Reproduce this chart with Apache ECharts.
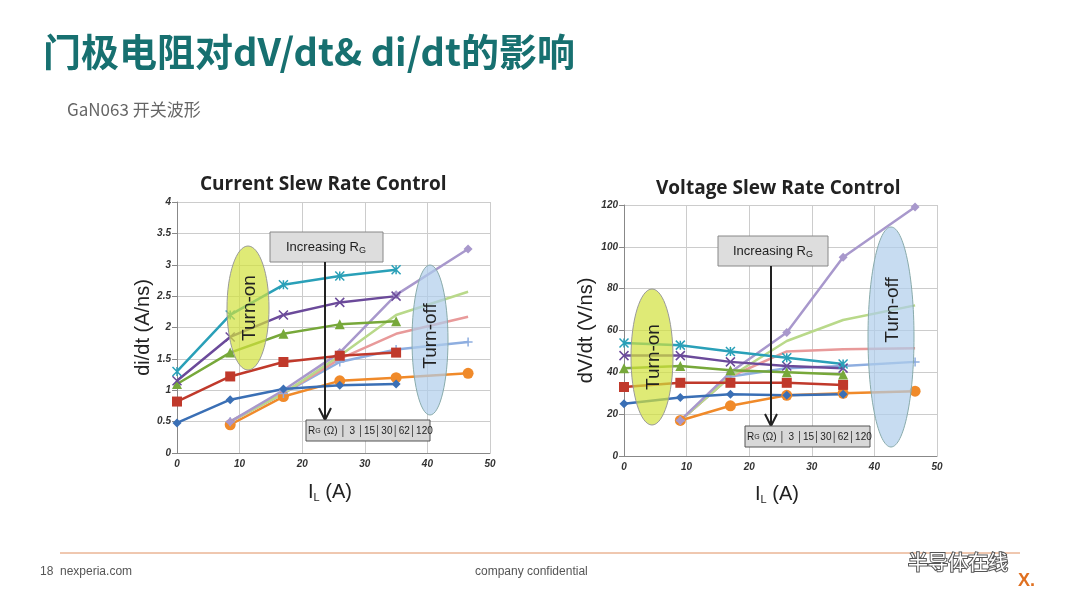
<!DOCTYPE html>
<html><head><meta charset="utf-8">
<script src="https://cdn.jsdelivr.net/npm/echarts@6/dist/echarts.min.js"></script>
<style>html,body{margin:0;padding:0;background:#fff}#c{width:1080px;height:608px}</style>
</head><body><div id="c"></div>
<script>
// turn-on x positions / turn-off x positions (A)
var onX = [0, 8.5, 17, 26, 35];
var offX = [8.5, 17, 26, 35, 46.5];
var onXV = [0, 9, 17, 26, 35];
var offXV = [9, 17, 26, 35, 46.5];

// di/dt (A/ns)
var diOn = {
    blue: [0.48, 0.85, 1.02, 1.08, 1.1],
    red: [0.82, 1.22, 1.45, 1.55, 1.6],
    green: [1.1, 1.6, 1.9, 2.05, 2.1],
    purple: [1.15, 1.85, 2.2, 2.4, 2.5],
    cyan: [1.3, 2.2, 2.68, 2.82, 2.92]
};
var diOff = {
    orange: [0.45, 0.9, 1.15, 1.2, 1.27],
    lblue: [0.5, 0.95, 1.45, 1.65, 1.77],
    pink: [0.5, 0.95, 1.5, 1.9, 2.17],
    lgreen: [0.5, 0.95, 1.55, 2.2, 2.57],
    lavender: [0.5, 1.0, 1.6, 2.52, 3.25]
};
// dV/dt (V/ns)
var dvOn = {
    blue: [25, 28, 29.5, 29, 29.5],
    red: [33, 35, 35, 35, 34],
    green: [42, 43, 41, 40, 39],
    purple: [48, 48, 45, 43, 42],
    cyan: [54, 53, 50, 47, 44]
};
var dvOff = {
    orange: [17, 24, 29, 30, 31],
    lblue: [17, 38, 42, 43, 45],
    pink: [17, 38, 50, 51, 51.5],
    lgreen: [17, 38, 55, 65, 72],
    lavender: [17, 40, 59, 95, 119]
};

var cross = 'path://M0,0L10,10M10,0L0,10';
var star = 'path://M0,0L10,10M10,0L0,10M5,0L5,10';
var plus = 'path://M5,0L5,10M0,5L10,5';
var styles = {
    blue: ['#3a6fb5', 'diamond', 9], red: ['#c0392b', 'rect', 10], green: ['#77a83a', 'triangle', 10],
    purple: ['#6b4a9a', cross, 9], cyan: ['#2aa0b8', star, 9],
    orange: ['#f08a2a', 'circle', 11], lblue: ['#8eaee0', plus, 9], pink: ['#e89a9a', 'none', 0],
    lgreen: ['#b9d98a', 'none', 0], lavender: ['#a898cc', 'diamond', 9]
};

function pairs(xs, ys) {
    return ys.map(function(v, i) { return [xs[i], v]; });
}
function mk(set, xs, idx) {
    var out = [];
    for (var k in set) {
        var s = styles[k];
        var isPath = s[1].indexOf('path') === 0;
        out.push({
            type: 'line', xAxisIndex: idx, yAxisIndex: idx, data: pairs(xs, set[k]),
            symbol: s[1], symbolSize: s[2], showSymbol: s[1] !== 'none',
            lineStyle: { color: s[0], width: 2.5 },
            itemStyle: isPath ? { color: 'none', borderColor: s[0], borderWidth: 1.5 } : { color: s[0] }
        });
    }
    return out;
}

var axisTxt = { fontStyle: 'italic', fontWeight: 'bold', color: '#333', fontSize: 10, margin: 6 };
var split = { show: true, lineStyle: { color: '#ccc' } };

var chart = echarts.init(document.getElementById('c'));
chart.setOption({
    animation: false,
    title: [
        { text: '门极电阻对dV/dt& di/dt的影响', left: 38, top: 28, textStyle: { fontSize: 38, fontWeight: 'bold', color: '#177070', fontFamily: 'Noto Sans CJK SC' } },
        { text: 'GaN063 开关波形', left: 62, top: 96, textStyle: { fontSize: 17, fontWeight: 'normal', color: '#666', fontFamily: 'Noto Sans CJK SC' } },
        { text: 'Current Slew Rate Control', left: 195, top: 170, textStyle: { fontSize: 19, fontWeight: 'bold', color: '#222', fontFamily: 'Open Sans' } },
        { text: 'Voltage Slew Rate Control', left: 651, top: 174, textStyle: { fontSize: 19, fontWeight: 'bold', color: '#222', fontFamily: 'Open Sans' } }
    ],
    grid: [
        { left: 177, top: 202, width: 313, height: 251 },
        { left: 624, top: 205, width: 313, height: 251 }
    ],
    xAxis: [
        { gridIndex: 0, type: 'value', min: 0, max: 50, interval: 10, axisLabel: axisTxt, splitLine: split, axisLine: { lineStyle: { color: '#888' } }, axisTick: { show: false } },
        { gridIndex: 1, type: 'value', min: 0, max: 50, interval: 10, axisLabel: axisTxt, splitLine: split, axisLine: { lineStyle: { color: '#888' } }, axisTick: { show: false } }
    ],
    yAxis: [
        { gridIndex: 0, type: 'value', min: 0, max: 4, interval: 0.5, axisLabel: axisTxt, splitLine: split, axisLine: { show: true, lineStyle: { color: '#888' } },
          name: 'di/dt (A/ns)', nameLocation: 'middle', nameGap: 24, nameTextStyle: { fontSize: 20, color: '#222' } },
        { gridIndex: 1, type: 'value', min: 0, max: 120, interval: 20, axisLabel: axisTxt, splitLine: split, axisLine: { show: true, lineStyle: { color: '#888' } },
          name: 'dV/dt (V/ns)', nameLocation: 'middle', nameGap: 28, nameTextStyle: { fontSize: 20, color: '#222' } }
    ],
    series: [].concat(mk(diOff, offX, 0), mk(diOn, onX, 0), mk(dvOff, offXV, 1), mk(dvOn, onXV, 1)),
    graphic: [
        { type: 'ellipse', shape: { cx: 248, cy: 308, rx: 21, ry: 62 }, style: { fill: 'rgba(210,225,60,0.7)', stroke: '#999' }, z: 10 },
        { type: 'ellipse', shape: { cx: 430, cy: 340, rx: 18, ry: 75 }, style: { fill: 'rgba(175,205,235,0.7)', stroke: '#8aa' }, z: 10 },
        { type: 'ellipse', shape: { cx: 652, cy: 357, rx: 21, ry: 68 }, style: { fill: 'rgba(210,225,60,0.7)', stroke: '#999' }, z: 10 },
        { type: 'ellipse', shape: { cx: 891, cy: 337, rx: 23, ry: 110 }, style: { fill: 'rgba(175,205,235,0.7)', stroke: '#8aa' }, z: 10 },
        { type: 'text', x: 250, y: 308, rotation: Math.PI / 2, style: { text: 'Turn-on', fontSize: 19, fill: '#222', align: 'center', verticalAlign: 'middle' }, z: 11 },
        { type: 'text', x: 431, y: 336, rotation: Math.PI / 2, style: { text: 'Turn-off', fontSize: 19, fill: '#222', align: 'center', verticalAlign: 'middle' }, z: 11 },
        { type: 'text', x: 654, y: 357, rotation: Math.PI / 2, style: { text: 'Turn-on', fontSize: 19, fill: '#222', align: 'center', verticalAlign: 'middle' }, z: 11 },
        { type: 'text', x: 893, y: 310, rotation: Math.PI / 2, style: { text: 'Turn-off', fontSize: 19, fill: '#222', align: 'center', verticalAlign: 'middle' }, z: 11 },
        // Increasing R_G boxes and arrows
        { type: 'rect', shape: { x: 270, y: 232, width: 113, height: 30 }, style: { fill: '#ddd', stroke: '#888' }, z: 12 },
        { type: 'text', x: 326, y: 247, style: { text: 'Increasing R{s|G}', rich: { s: { fontSize: 9, padding: [8, 0, 0, 0] } }, fontSize: 13, fill: '#222', align: 'center', verticalAlign: 'middle' }, z: 13 },
        { type: 'line', shape: { x1: 325, y1: 262, x2: 325, y2: 418 }, style: { stroke: '#222', lineWidth: 2 }, z: 12 },
        { type: 'polyline', shape: { points: [[319, 408], [325, 420], [331, 408]] }, style: { stroke: '#222', lineWidth: 2, fill: null }, z: 12 },
        { type: 'rect', shape: { x: 718, y: 236, width: 110, height: 30 }, style: { fill: '#ddd', stroke: '#888' }, z: 12 },
        { type: 'text', x: 773, y: 251, style: { text: 'Increasing R{s|G}', rich: { s: { fontSize: 9, padding: [8, 0, 0, 0] } }, fontSize: 13, fill: '#222', align: 'center', verticalAlign: 'middle' }, z: 13 },
        { type: 'line', shape: { x1: 771, y1: 266, x2: 771, y2: 424 }, style: { stroke: '#222', lineWidth: 2 }, z: 12 },
        { type: 'polyline', shape: { points: [[765, 414], [771, 426], [777, 414]] }, style: { stroke: '#222', lineWidth: 2, fill: null }, z: 12 },
        // R_G tables
        { type: 'rect', shape: { x: 306, y: 420, width: 124, height: 21 }, style: { fill: '#d8d8d8', stroke: '#555' }, z: 12 },
        { type: 'text', x: 308, y: 431, style: { text: 'R{s|G} (Ω) │ 3 │15│30│62│120', rich: { s: { fontSize: 7 } }, fontSize: 10, fill: '#222', verticalAlign: 'middle' }, z: 13 },
        { type: 'rect', shape: { x: 745, y: 426, width: 125, height: 21 }, style: { fill: '#d8d8d8', stroke: '#555' }, z: 12 },
        { type: 'text', x: 747, y: 437, style: { text: 'R{s|G} (Ω) │ 3 │15│30│62│120', rich: { s: { fontSize: 7 } }, fontSize: 10, fill: '#222', verticalAlign: 'middle' }, z: 13 },
        // x axis names
        { type: 'text', x: 308, y: 482, style: { text: 'I{s|L} (A)', rich: { s: { fontSize: 11, padding: [10, 0, 0, 0] } }, fontSize: 20, fill: '#222' } },
        { type: 'text', x: 755, y: 484, style: { text: 'I{s|L} (A)', rich: { s: { fontSize: 11, padding: [10, 0, 0, 0] } }, fontSize: 20, fill: '#222' } },
        // footer
        { type: 'line', shape: { x1: 60, y1: 553, x2: 1020, y2: 553 }, style: { stroke: '#e09060', lineWidth: 1 } },
        { type: 'text', x: 40, y: 566, style: { text: '18  nexperia.com', fontSize: 12, fill: '#555' } },
        { type: 'text', x: 475, y: 566, style: { text: 'company confidential', fontSize: 12, fill: '#555' } },
        { type: 'text', x: 908, y: 552, style: { text: '半导体在线', fontSize: 20, fill: '#fff', stroke: '#555', lineWidth: 2, fontFamily: 'Noto Sans CJK SC' } },
        { type: 'text', x: 1018, y: 572, style: { text: 'X.', fontSize: 18, fontWeight: 'bold', fill: '#e07020' } }
    ]
});
</script></body></html>
